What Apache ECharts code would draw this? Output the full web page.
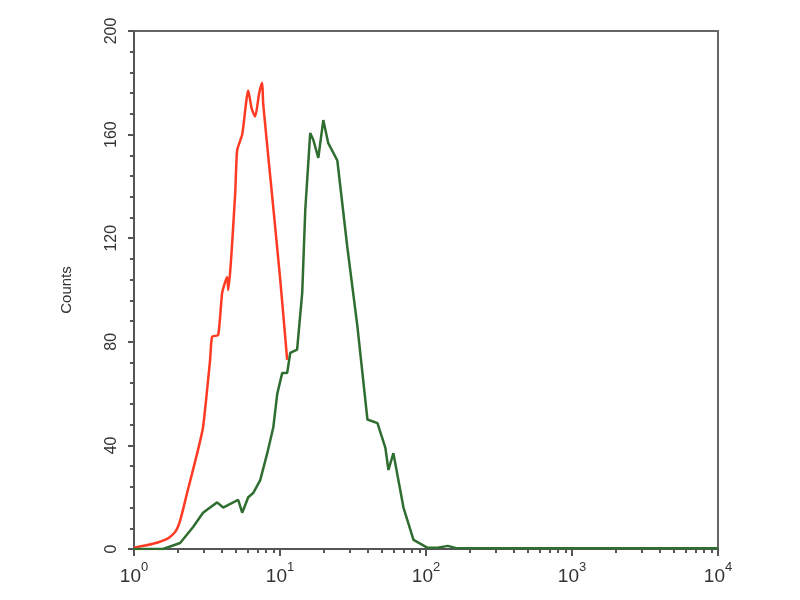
<!DOCTYPE html>
<html><head><meta charset="utf-8">
<script src="https://cdn.jsdelivr.net/npm/echarts@6/dist/echarts.min.js"></script>
<style>html,body{margin:0;padding:0;background:#fff}#c{width:800px;height:600px}</style>
</head><body><div id="c"></div>
<script>
// Isotype control (red) — fluorescence intensity vs counts
const redX = [1.0, 1.35, 1.7, 1.91, 2.07, 2.31, 2.71, 2.97, 3.32, 3.43, 3.77, 4.02, 4.35, 4.42, 4.93, 5.09, 5.51, 6.06, 6.4, 6.76, 7.2, 7.55, 7.67, 8.57, 10.0, 11.2];
const redY = [0.5, 2, 4, 6.5, 11, 21.6, 37, 47, 73, 82, 82.6, 99, 105, 100, 137, 154, 160, 177, 170, 167, 176, 180, 172, 144, 105, 73];
// Antibody stained sample (green)
const greenX = [1.0, 1.58, 2.07, 2.54, 2.97, 3.32, 3.71, 4.08, 4.78, 5.17, 5.51, 6.06, 6.55, 7.32, 8.18, 9.0, 9.58, 10.36, 11.2, 11.75, 13.1, 14.2, 14.9, 16.1, 16.9, 18.3, 19.8, 21.4, 24.7, 28.9, 33.9, 39.7, 46.5, 52.7, 55.3, 59.8, 70.1, 82.1, 102, 120, 141, 159, 300, 1000, 3000, 10000];
const greenY = [0, 0, 2.3, 8.5, 14, 16, 18, 16, 18, 19, 14, 20, 21.6, 26.6, 37, 47, 60, 68, 68, 75.7, 77, 99, 131, 160.6, 158, 151, 165.6, 156.7, 150, 116.6, 86, 50, 48.6, 39, 30.5, 37, 16, 3.5, 0.5, 0.5, 1.2, 0.4, 0.3, 0.3, 0.3, 0.3];
const xTicks = [1, 10, 100, 1000, 10000];
const yTicks = [0, 40, 80, 120, 160, 200];
const yName = 'Counts';

// minor tick positions (2..9 of each decade), expressed as decade exponents for the helper axis
const minorExp = [];
for (let e = 0; e < 4; e++) for (let k = 2; k <= 9; k++) minorExp.push(e + Math.log10(k));

const chart = echarts.init(document.getElementById('c'), null, {renderer: 'canvas'});
const gridBox = {left: 134, right: 82, top: 31, bottom: 51};
chart.setOption({
  animation: false,
  backgroundColor: '#fff',
  grid: [
    Object.assign({show: true, borderColor: '#666', borderWidth: 2, backgroundColor: 'transparent'}, gridBox),
    Object.assign({show: false}, gridBox)
  ],
  xAxis: [{
    type: 'log', logBase: 10, min: 1, max: 10000, gridIndex: 0, position: 'bottom',
    splitLine: {show: false},
    axisLine: {show: true, onZero: false, lineStyle: {color: '#555', width: 2}},
    axisTick: {show: true, inside: false, length: 7, lineStyle: {color: '#555', width: 2}, customValues: xTicks},
    axisLabel: {margin: 10, color: '#333', customValues: xTicks,
      formatter: v => '{b|10}{s|' + Math.round(Math.log10(v)) + '}',
      rich: {b: {fontSize: 19, fontFamily: 'Liberation Sans', color: '#333', padding: [8, 0, 0, 0]},
             s: {fontSize: 13, fontFamily: 'Liberation Sans', color: '#333', padding: [0, 0, 10, 0]}}}
  }, {
    type: 'value', min: 0, max: 4, gridIndex: 1, position: 'bottom',
    splitLine: {show: false},
    axisLine: {show: false, onZero: false},
    axisTick: {show: true, inside: false, length: 4, lineStyle: {color: '#555', width: 2}, customValues: minorExp},
    axisLabel: {show: false}
  }],
  yAxis: [{
    type: 'value', min: 0, max: 200, interval: 40, gridIndex: 0,
    name: yName, nameLocation: 'middle', nameGap: 60, nameRotate: 90,
    nameTextStyle: {fontSize: 15, color: '#333', fontFamily: 'Liberation Sans'},
    splitLine: {show: false},
    axisLine: {show: true, lineStyle: {color: '#555', width: 2}},
    axisTick: {show: true, length: 6, lineStyle: {color: '#555', width: 2}},
    minorTick: {show: true, splitNumber: 5, length: 4, lineStyle: {color: '#555', width: 2}},
    axisLabel: {rotate: 90, margin: 14, fontSize: 16, color: '#333', fontFamily: 'Liberation Sans',
      customValues: yTicks}
  }, {
    type: 'value', min: 0, max: 200, gridIndex: 1, show: false
  }],
  series: [
    {type: 'line', name: 'control', xAxisIndex: 0, yAxisIndex: 0, showSymbol: false, symbol: 'none', z: 2, smooth: 0.2,
     data: redX.map((x, i) => [x, redY[i]]), lineStyle: {color: '#ff3a22', width: 2.5}},
    {type: 'line', name: 'sample', xAxisIndex: 0, yAxisIndex: 0, showSymbol: false, symbol: 'none', z: 3,
     data: greenX.map((x, i) => [x, greenY[i]]), lineStyle: {color: '#2f6e30', width: 2.5}}
  ]
});
</script></body></html>
